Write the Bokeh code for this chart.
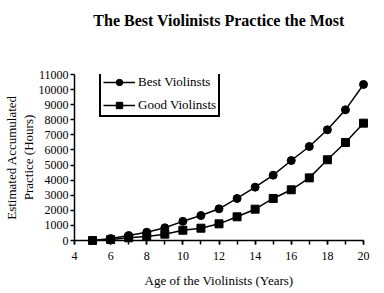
from bokeh.plotting import figure
from bokeh.models import Range1d, SingleIntervalTicker, Legend, LegendItem, Title
from bokeh.embed import file_html
from bokeh.resources import INLINE

ages = [5, 6, 7, 8, 9, 10, 11, 12, 13, 14, 15, 16, 17, 18, 19, 20]
best = [0, 130, 330, 550, 840, 1270, 1655, 2100, 2785, 3535, 4330, 5300, 6230, 7335, 8660, 10340]
good = [0, 60, 180, 265, 420, 680, 815, 1105, 1570, 2075, 2785, 3360, 4150, 5350, 6495, 7775]
title_text = "The Best Violinists Practice the Most"
x_label = "Age of the Violinists (Years)"
y_label = "Estimated Accumulated\nPractice (Hours)"
series_names = ["Best Violinsts", "Good Violinsts"]

FONT = "Liberation Serif"

p = figure(width=384, height=293, output_backend="svg", toolbar_location=None,
           x_range=Range1d(4, 20), y_range=Range1d(0, 11000),
           min_border_left=74, min_border_right=21, min_border_top=74, min_border_bottom=53)
p.title = None
p.outline_line_color = None
p.xgrid.grid_line_color = None
p.ygrid.grid_line_color = None
p.background_fill_color = "white"
p.border_fill_color = "white"

l1 = p.line(ages, best, line_color="black", line_width=1.5, level="overlay")
m1 = p.scatter(ages, best, marker="circle", size=8, fill_color="black", line_color="black", level="overlay")
l2 = p.line(ages, good, line_color="black", line_width=1.5, level="overlay")
m2 = p.scatter(ages, good, marker="square", size=8, fill_color="black", line_color="black", level="overlay")

xa = p.xaxis[0]
xa.ticker = SingleIntervalTicker(interval=2, num_minor_ticks=2)
ya = p.yaxis[0]
ya.ticker = SingleIntervalTicker(interval=1000, num_minor_ticks=0)

for ax in (xa, ya):
    ax.axis_line_color = "black"
    ax.axis_line_width = 1.5
    ax.major_tick_line_color = "black"
    ax.major_tick_line_width = 1.5
    ax.minor_tick_line_color = "black"
    ax.minor_tick_line_width = 1.5
    ax.major_tick_in = 0
    ax.major_tick_out = 4
    ax.minor_tick_in = 0
    ax.minor_tick_out = 4
    ax.major_label_text_font = FONT
    ax.major_label_text_font_size = "12px"
    ax.major_label_text_color = "black"
    ax.axis_label_text_font = FONT
    ax.axis_label_text_font_size = "13px"
    ax.axis_label_text_font_style = "normal"
    ax.axis_label_text_color = "black"
ya.minor_tick_line_color = None
xa.major_label_standoff = 7
xa.axis_label = x_label
xa.axis_label_standoff = 10
ya.axis_label = y_label
ya.major_label_standoff = 2
ya.axis_label_standoff = 0
ya.axis_label_text_line_height = 1.1

legend = Legend(items=[LegendItem(label=series_names[0], renderers=[l1, m1]),
                       LegendItem(label=series_names[1], renderers=[l2, m2])],
                location=(25, 123))
legend.border_line_color = "black"
legend.border_line_width = 2
legend.border_line_alpha = 1
legend.background_fill_color = "white"
legend.background_fill_alpha = 1
legend.label_text_font = FONT
legend.label_text_font_size = "13px"
legend.label_text_color = "black"
legend.padding = 2
legend.spacing = 7
legend.margin = 0
legend.label_height = 16
legend.glyph_height = 16
legend.glyph_width = 32
legend.label_standoff = 3
p.add_layout(legend)

# spacer (closest to frame), then the real title above it
p.add_layout(Title(text=" ", text_font_size="12px", standoff=25), "above")
p.add_layout(Title(text=title_text, align="center", text_font=FONT, text_font_size="16px",
                   text_font_style="bold", text_color="black", standoff=10), "above")

open("out.html", "w").write(file_html(p, INLINE))
